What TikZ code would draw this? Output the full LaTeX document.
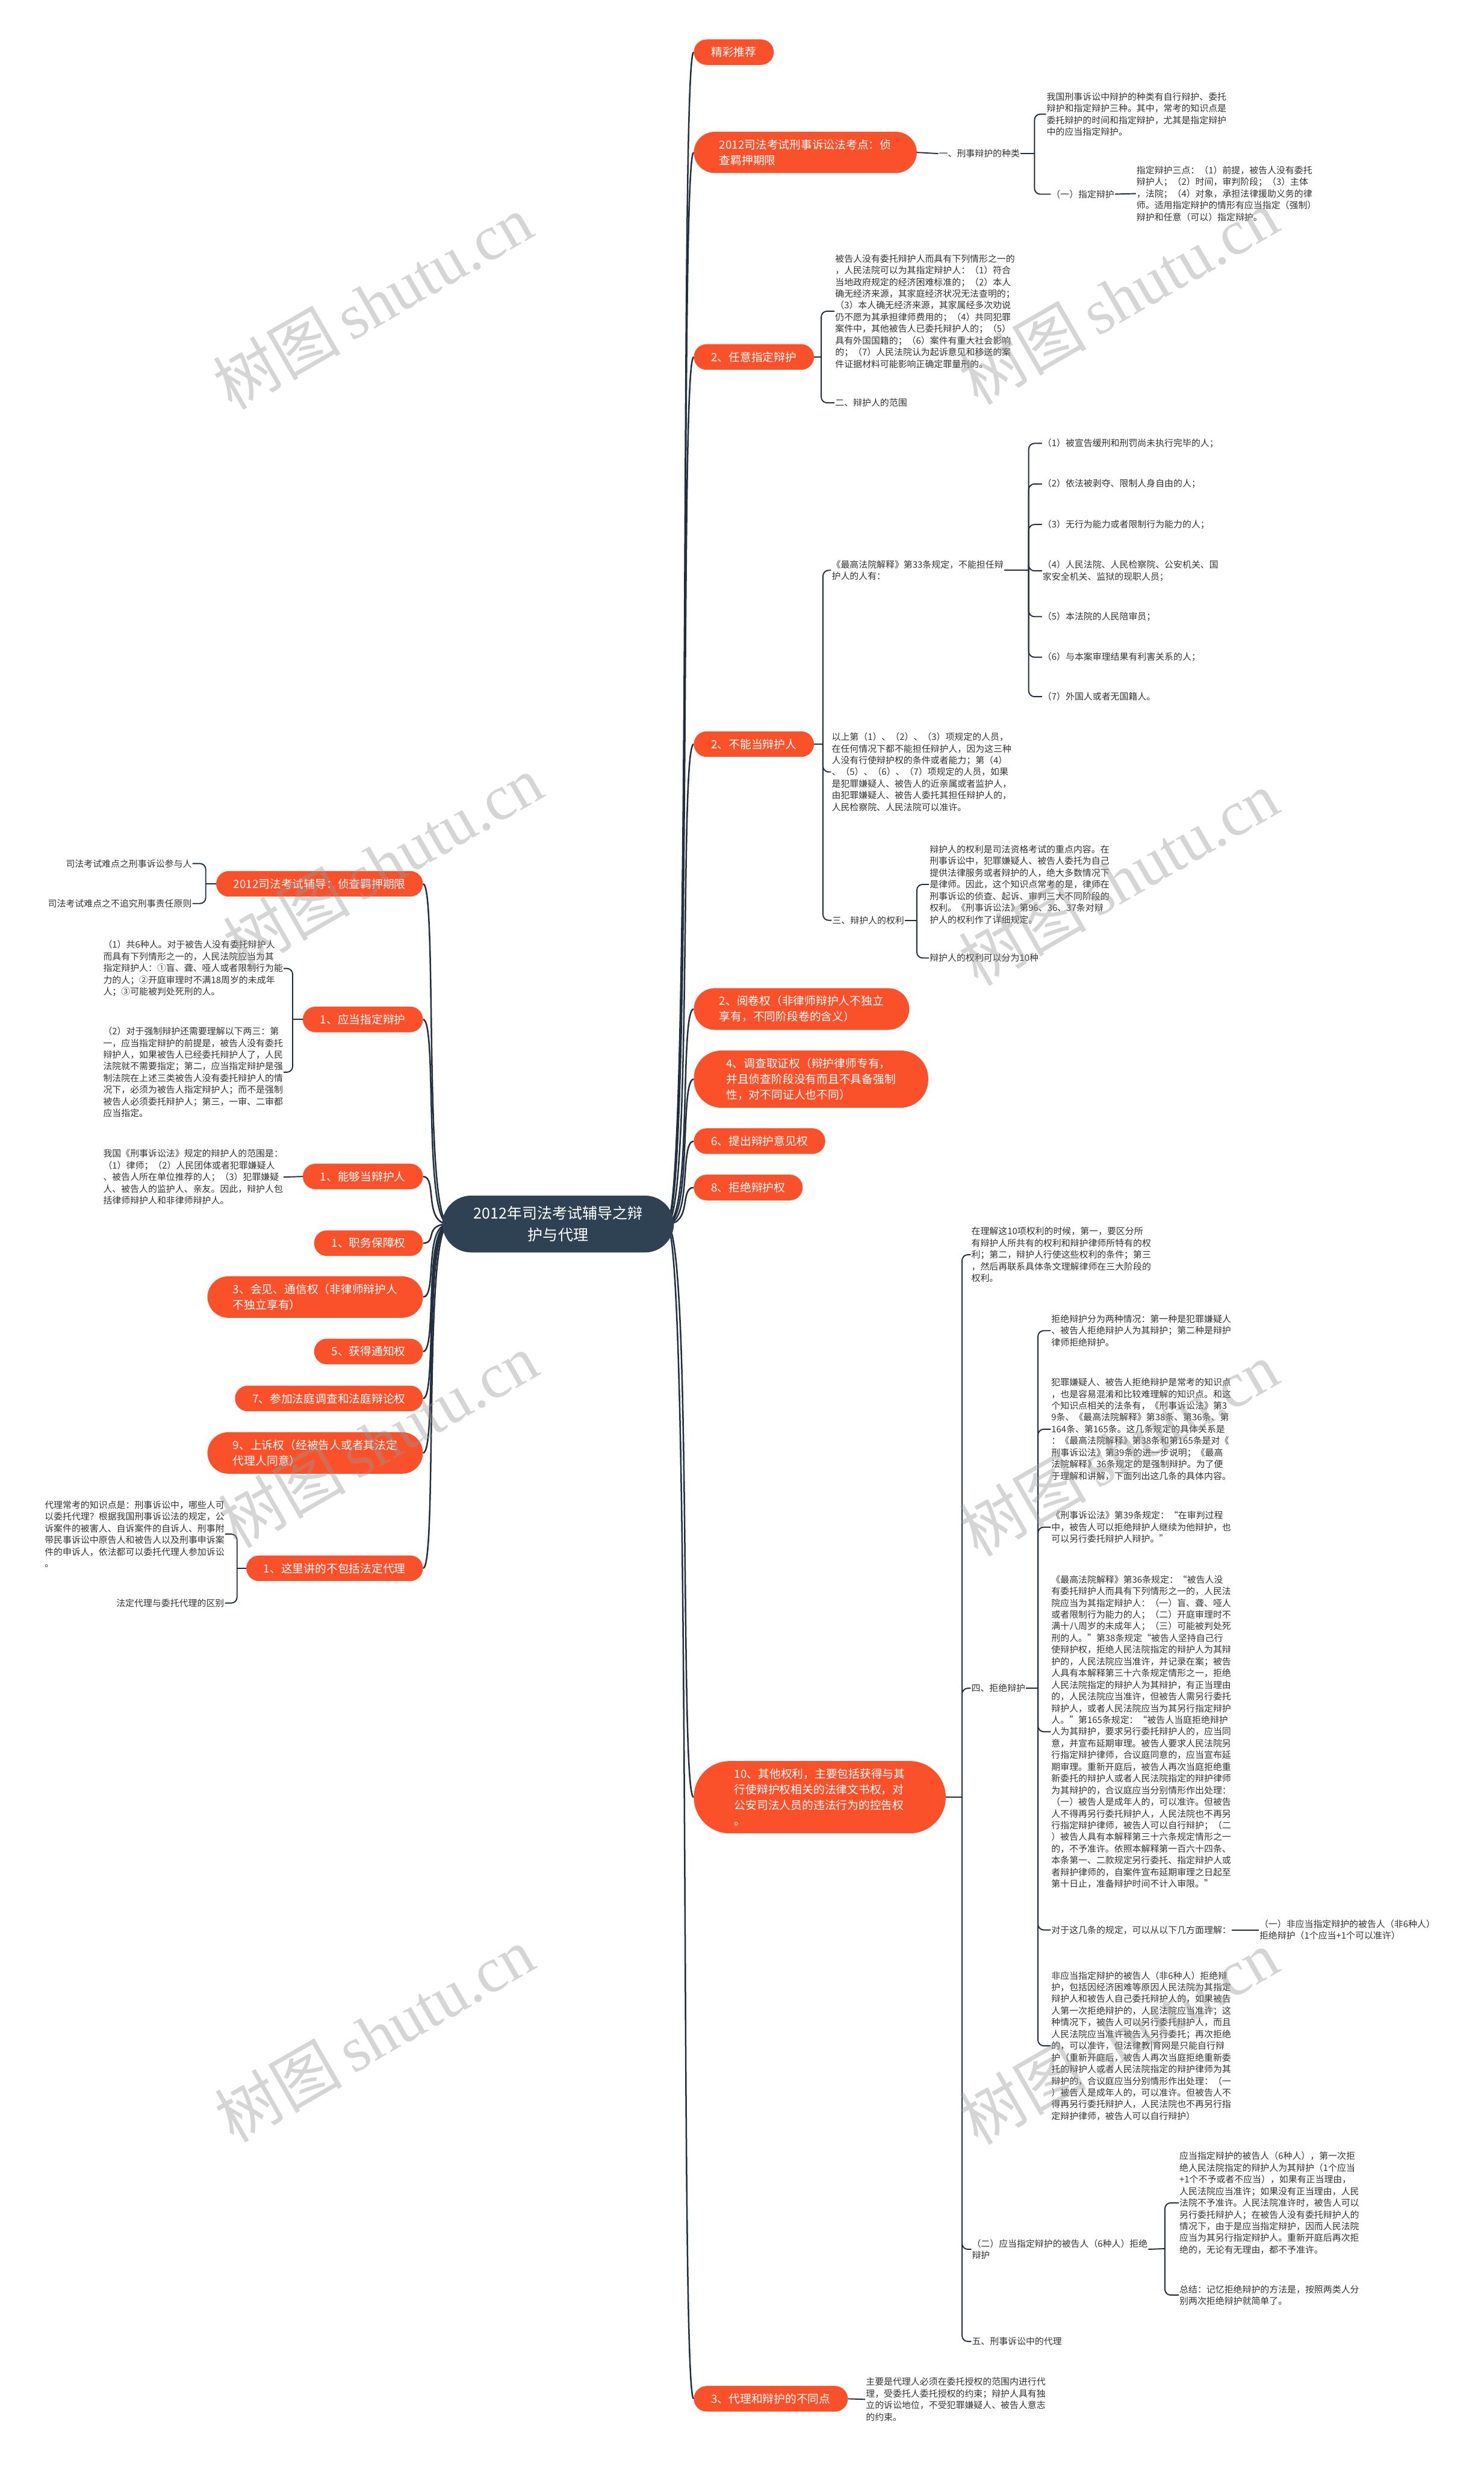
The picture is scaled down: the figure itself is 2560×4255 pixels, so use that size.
\documentclass[tikz,border=0pt]{standalone}
\usepackage{fontspec}
\setmainfont{Noto Sans CJK SC}
\newfontfamily\marcalat{Liberation Serif}
\usetikzlibrary{positioning,backgrounds}

\definecolor{tema}{RGB}{250,81,43}
\definecolor{raizcor}{RGB}{47,66,84}
\definecolor{linha}{RGB}{33,47,62}
\definecolor{textocor}{RGB}{51,51,51}
\definecolor{marcacor}{RGB}{150,150,150}

\tikzset{
  topico/.style={rectangle, rounded corners=#1, fill=tema, text=white, font=\fontsize{19.5}{27}\selectfont, align=left, inner xsep={#1+8pt}, inner ysep=13pt},
  topico/.default=22pt,
  raiz/.style={rectangle, rounded corners=50pt, fill=raizcor, text=white, font=\fontsize{26}{38}\selectfont, align=center, inner xsep=54pt, inner ysep=18pt},
  nota/.style={font=\fontsize{15.5}{20.2}\selectfont, text=textocor, align=left, inner sep=1pt},
  ramo/.style={draw=linha, line width=2.6pt},
  fio/.style={draw=linha, line width=2pt},
  chave/.style={fio, rounded corners=10pt},
  marca/.style={text=marcacor, opacity=0.4, rotate=30, font=\fontsize{110}{110}\selectfont}
}

\begin{document}
\begin{tikzpicture}[x=1pt,y=-1pt]
        \useasboundingbox (0,0) rectangle (2560,4255);

        % Raiz
        \node[raiz] (raiz) at (963,2112) {2012年司法考试辅导之辩\\护与代理};

        % Topicos da direita
        \node[topico, anchor=west] (jc) at (1197,90) {精彩推荐};
        \node[topico=36pt, anchor=west] (zc) at (1197,263) {2012司法考试刑事诉讼法考点：侦\\查羁押期限};
        \node[topico, anchor=west] (ry) at (1197,616) {2、任意指定辩护};
        \node[topico, anchor=west] (bn) at (1197,1284) {2、不能当辩护人};
        \node[topico=36pt, anchor=west] (yj) at (1197,1741) {2、阅卷权（非律师辩护人不独立\\享有，不同阶段卷的含义）};
        \node[topico=48pt, anchor=west] (dc) at (1197,1862) {4、调查取证权（辩护律师专有，\\并且侦查阶段没有而且不具备强制\\性，对不同证人也不同）};
        \node[topico, anchor=west] (tc) at (1197,1969) {6、提出辩护意见权};
        \node[topico, anchor=west] (jj) at (1197,2049) {8、拒绝辩护权};
        \node[topico=62pt, anchor=west] (qt) at (1197,3101) {10、其他权利，主要包括获得与其\\行使辩护权相关的法律文书权，对\\公安司法人员的违法行为的控告权\\。};
        \node[topico, anchor=west] (dl) at (1197,4139) {3、代理和辩护的不同点};

        % Topicos da esquerda
        \node[topico, anchor=east] (fd) at (730,1525) {2012司法考试辅导：侦查羁押期限};
        \node[topico, anchor=east] (yd) at (730,1759) {1、应当指定辩护};
        \node[topico, anchor=east] (ng) at (730,2030) {1、能够当辩护人};
        \node[topico, anchor=east] (zw) at (730,2145) {1、职务保障权};
        \node[topico=36pt, anchor=east] (hj) at (730,2238) {3、会见、通信权（非律师辩护人\\不独立享有）};
        \node[topico, anchor=east] (hd) at (730,2332) {5、获得通知权};
        \node[topico, anchor=east] (cj) at (730,2413) {7、参加法庭调查和法庭辩论权};
        \node[topico=36pt, anchor=east] (ss) at (730,2507) {9、上诉权（经被告人或者其法定\\代理人同意）};
        \node[topico, anchor=east] (zl) at (730,2706) {1、这里讲的不包括法定代理};

        % Ramos da raiz
        \begin{scope}[on background layer]
          \fill[white] (0,0) rectangle (2560,4255);
          \coordinate (rd) at (1150,2112);
          \coordinate (re) at (775,2112);
          \foreach \n in {jc,zc,ry,bn,yj,dc,tc,jj,qt,dl}
            \draw[ramo] (rd) .. controls ([xshift=45pt]rd) and ([xshift=-25pt]\n.west) .. (\n.west);
          \foreach \n in {fd,yd,ng,zw,hj,hd,cj,ss,zl}
            \draw[ramo] (re) .. controls ([xshift=-45pt]re) and ([xshift=25pt]\n.east) .. (\n.east);
        \end{scope}

        % 侦查羁押期限
        \node[nota, anchor=west] (zlb) at (1619,265) {一、刑事辩护的种类};
        \node[nota, anchor=west] (zlb1) at (1805,197) {我国刑事诉讼中辩护的种类有自行辩护、委托\\辩护和指定辩护三种。其中，常考的知识点是\\委托辩护的时间和指定辩护，尤其是指定辩护\\中的应当指定辩护。};
        \node[nota, anchor=west] (zdbh) at (1813,335) {（一）指定辩护};
        \node[nota, anchor=west] (zdbh1) at (1960,334) {指定辩护三点：（1）前提，被告人没有委托\\辩护人；（2）时间，审判阶段；（3）主体\\，法院；（4）对象，承担法律援助义务的律\\师。适用指定辩护的情形有应当指定（强制）\\辩护和任意（可以）指定辩护。};
        \coordinate (kzc) at (1785,265);
        \draw[fio] (zc.east) -- (zlb.west);
        \draw[fio] (zlb.east) -- (kzc);
        \draw[chave] (kzc) |- (zlb1.west);
        \draw[chave] (kzc) |- (zdbh.west);
        \draw[fio] (zdbh.east) -- (zdbh1.west);

        % 任意指定辩护
        \node[nota, anchor=west] (ry1) at (1440,537) {被告人没有委托辩护人而具有下列情形之一的\\，人民法院可以为其指定辩护人：（1）符合\\当地政府规定的经济困难标准的；（2）本人\\确无经济来源，其家庭经济状况无法查明的；\\（3）本人确无经济来源，其家属经多次劝说\\仍不愿为其承担律师费用的；（4）共同犯罪\\案件中，其他被告人已委托辩护人的；（5）\\具有外国国籍的；（6）案件有重大社会影响\\的；（7）人民法院认为起诉意见和移送的案\\件证据材料可能影响正确定罪量刑的。};
        \node[nota, anchor=west] (ry2) at (1440,695) {二、辩护人的范围};
        \coordinate (kry) at (1417,616);
        \draw[fio] (ry.east) -- (kry);
        \draw[chave] (kry) |- (ry1.west);
        \draw[chave] (kry) |- (ry2.west);

        % 不能当辩护人
        \node[nota, anchor=west] (bn1) at (1434,984) {《最高法院解释》第33条规定，不能担任辩\\护人的人有：};
        \node[nota, anchor=west] (bn2) at (1434,1332) {以上第（1）、（2）、（3）项规定的人员，\\在任何情况下都不能担任辩护人，因为这三种\\人没有行使辩护权的条件或者能力；第（4）\\、（5）、（6）、（7）项规定的人员，如果\\是犯罪嫌疑人、被告人的近亲属或者监护人，\\由犯罪嫌疑人、被告人委托其担任辩护人的，\\人民检察院、人民法院可以准许。};
        \node[nota, anchor=west] (bn3) at (1435,1588) {三、辩护人的权利};
        \coordinate (kbn) at (1420,1284);
        \draw[fio] (bn.east) -- (kbn);
        \foreach \n in {bn1,bn2,bn3}
          \draw[chave] (kbn) |- (\n.west);

        \node[nota, anchor=west] (bn1a) at (1798,765) {（1）被宣告缓刑和刑罚尚未执行完毕的人；};
        \node[nota, anchor=west] (bn1b) at (1798,835) {（2）依法被剥夺、限制人身自由的人；};
        \node[nota, anchor=west] (bn1c) at (1798,905) {（3）无行为能力或者限制行为能力的人；};
        \node[nota, anchor=west] (bn1d) at (1798,985) {（4）人民法院、人民检察院、公安机关、国\\家安全机关、监狱的现职人员；};
        \node[nota, anchor=west] (bn1e) at (1798,1064) {（5）本法院的人民陪审员；};
        \node[nota, anchor=west] (bn1f) at (1798,1134) {（6）与本案审理结果有利害关系的人；};
        \node[nota, anchor=west] (bn1g) at (1798,1202) {（7）外国人或者无国籍人。};
        \coordinate (kbn1) at (1775,984);
        \draw[fio] (bn1.east) -- (kbn1);
        \foreach \n in {bn1a,bn1b,bn1c,bn1d,bn1e,bn1f,bn1g}
          \draw[chave] (kbn1) |- (\n.west);

        \node[nota, anchor=west] (bn3a) at (1603,1526) {辩护人的权利是司法资格考试的重点内容。在\\刑事诉讼中，犯罪嫌疑人、被告人委托为自己\\提供法律服务或者辩护的人，绝大多数情况下\\是律师。因此，这个知识点常考的是，律师在\\刑事诉讼的侦查、起诉、审判三大不同阶段的\\权利。《刑事诉讼法》第96、36、37条对辩\\护人的权利作了详细规定。};
        \node[nota, anchor=west] (bn3b) at (1603,1653) {辩护人的权利可以分为10种};
        \coordinate (kbn3) at (1582,1588);
        \draw[fio] (bn3.east) -- (kbn3);
        \draw[chave] (kbn3) |- (bn3a.west);
        \draw[chave] (kbn3) |- (bn3b.west);

        % 其他权利
        \node[nota, anchor=west] (qt1) at (1675,2165) {在理解这10项权利的时候，第一，要区分所\\有辩护人所共有的权利和辩护律师所特有的权\\利；第二，辩护人行使这些权利的条件；第三\\，然后再联系具体条文理解律师在三大阶段的\\权利。};
        \node[nota, anchor=west] (qt2) at (1675,2913) {四、拒绝辩护};
        \node[nota, anchor=west] (qt3) at (1676,3881) {（二）应当指定辩护的被告人（6种人）拒绝\\辩护};
        \node[nota, anchor=west] (qt4) at (1676,4040) {五、刑事诉讼中的代理};
        \coordinate (kqt) at (1660,3101);
        \draw[fio] (qt.east) -- (kqt);
        \foreach \n in {qt1,qt2,qt3,qt4}
          \draw[chave] (kqt) |- (\n.west);

        \node[nota, anchor=west] (qt2a) at (1813,2296) {拒绝辩护分为两种情况：第一种是犯罪嫌疑人\\、被告人拒绝辩护人为其辩护；第二种是辩护\\律师拒绝辩护。};
        \node[nota, anchor=west] (qt2b) at (1813,2466) {犯罪嫌疑人、被告人拒绝辩护是常考的知识点\\，也是容易混淆和比较难理解的知识点。和这\\个知识点相关的法条有，《刑事诉讼法》第3\\9条、《最高法院解释》第38条、第36条、第\\164条、第165条。这几条规定的具体关系是\\：《最高法院解释》第38条和第165条是对《\\刑事诉讼法》第39条的进一步说明；《最高\\法院解释》36条规定的是强制辩护。为了便\\于理解和讲解，下面列出这几条的具体内容。};
        \node[nota, anchor=west] (qt2c) at (1813,2635) {《刑事诉讼法》第39条规定：“在审判过程\\中，被告人可以拒绝辩护人继续为他辩护，也\\可以另行委托辩护人辩护。”};
        \node[nota, anchor=west] (qt2d) at (1813,2988) {《最高法院解释》第36条规定：“被告人没\\有委托辩护人而具有下列情形之一的，人民法\\院应当为其指定辩护人：（一）盲、聋、哑人\\或者限制行为能力的人；（二）开庭审理时不\\满十八周岁的未成年人；（三）可能被判处死\\刑的人。”第38条规定“被告人坚持自己行\\使辩护权，拒绝人民法院指定的辩护人为其辩\\护的，人民法院应当准许，并记录在案；被告\\人具有本解释第三十六条规定情形之一，拒绝\\人民法院指定的辩护人为其辩护，有正当理由\\的，人民法院应当准许，但被告人需另行委托\\辩护人，或者人民法院应当为其另行指定辩护\\人。”第165条规定：“被告人当庭拒绝辩护\\人为其辩护，要求另行委托辩护人的，应当同\\意，并宣布延期审理。被告人要求人民法院另\\行指定辩护律师，合议庭同意的，应当宣布延\\期审理。重新开庭后，被告人再次当庭拒绝重\\新委托的辩护人或者人民法院指定的辩护律师\\为其辩护的，合议庭应当分别情形作出处理：\\（一）被告人是成年人的，可以准许。但被告\\人不得再另行委托辩护人，人民法院也不再另\\行指定辩护律师，被告人可以自行辩护；（二\\）被告人具有本解释第三十六条规定情形之一\\的，不予准许。依照本解释第一百六十四条、\\本条第一、二款规定另行委托、指定辩护人或\\者辩护律师的，自案件宣布延期审理之日起至\\第十日止，准备辩护时间不计入审限。”};
        \node[nota, anchor=west] (qt2e) at (1813,3330) {对于这几条的规定，可以从以下几方面理解：};
        \node[nota, anchor=west] (qt2f) at (1813,3530) {非应当指定辩护的被告人（非6种人）拒绝辩\\护，包括因经济困难等原因人民法院为其指定\\辩护人和被告人自己委托辩护人的，如果被告\\人第一次拒绝辩护的，人民法院应当准许；这\\种情况下，被告人可以另行委托辩护人，而且\\人民法院应当准许被告人另行委托；再次拒绝\\的，可以准许，但法律教|育网是只能自行辩\\护（重新开庭后，被告人再次当庭拒绝重新委\\托的辩护人或者人民法院指定的辩护律师为其\\辩护的，合议庭应当分别情形作出处理：（一\\）被告人是成年人的，可以准许。但被告人不\\得再另行委托辩护人，人民法院也不再另行指\\定辩护律师，被告人可以自行辩护）};
        \coordinate (kqt2) at (1791,2913);
        \draw[fio] (qt2.east) -- (kqt2);
        \foreach \n in {qt2a,qt2b,qt2c,qt2d,qt2e,qt2f}
          \draw[chave] (kqt2) |- (\n.west);
        \node[nota, anchor=west] (qt2e1) at (2172,3330) {（一）非应当指定辩护的被告人（非6种人）\\拒绝辩护（1个应当+1个可以准许）};
        \draw[fio] (qt2e.east) -- (qt2e1.west);

        \node[nota, anchor=west] (qt3a) at (2034,3801) {应当指定辩护的被告人（6种人），第一次拒\\绝人民法院指定的辩护人为其辩护（1个应当\\+1个不予或者不应当），如果有正当理由，\\人民法院应当准许；如果没有正当理由，人民\\法院不予准许。人民法院准许时，被告人可以\\另行委托辩护人；在被告人没有委托辩护人的\\情况下，由于是应当指定辩护，因而人民法院\\应当为其另行指定辩护人。重新开庭后再次拒\\绝的，无论有无理由，都不予准许。};
        \node[nota, anchor=west] (qt3b) at (2034,3960) {总结：记忆拒绝辩护的方法是，按照两类人分\\别两次拒绝辩护就简单了。};
        \coordinate (kqt3) at (2010,3880);
        \draw[fio] (qt3.east) -- (kqt3);
        \draw[chave] (kqt3) |- (qt3a.west);
        \draw[chave] (kqt3) |- (qt3b.west);

        % 代理和辩护的不同点
        \node[nota, anchor=west] (dl1) at (1493,4140) {主要是代理人必须在委托授权的范围内进行代\\理，受委托人委托授权的约束；辩护人具有独\\立的诉讼地位，不受犯罪嫌疑人、被告人意志\\的约束。};
        \draw[fio] (dl.east) -- (dl1.west);

        % Esquerda
        \node[nota, anchor=east] (fd1) at (332,1490) {司法考试难点之刑事诉讼参与人};
        \node[nota, anchor=east] (fd2) at (332,1559) {司法考试难点之不追究刑事责任原则};
        \coordinate (kfd) at (355,1525);
        \draw[fio] (fd.west) -- (kfd);
        \draw[chave] (kfd) |- (fd1.east);
        \draw[chave] (kfd) |- (fd2.east);

        \node[nota, anchor=west] (yd1) at (177,1671) {（1）共6种人。对于被告人没有委托辩护人\\而具有下列情形之一的，人民法院应当为其\\指定辩护人：①盲、聋、哑人或者限制行为能\\力的人；②开庭审理时不满18周岁的未成年\\人；③可能被判处死刑的人。};
        \node[nota, anchor=west] (yd2) at (177,1850) {（2）对于强制辩护还需要理解以下两三：第\\一，应当指定辩护的前提是，被告人没有委托\\辩护人，如果被告人已经委托辩护人了，人民\\法院就不需要指定；第二，应当指定辩护是强\\制法院在上述三类被告人没有委托辩护人的情\\况下，必须为被告人指定辩护人；而不是强制\\被告人必须委托辩护人；第三，一审、二审都\\应当指定。};
        \coordinate (kyd) at (505,1759);
        \draw[fio] (yd.west) -- (kyd);
        \draw[chave] (kyd) |- (yd1.east);
        \draw[chave] (kyd) |- (yd2.east);

        \node[nota, anchor=west] (ng1) at (177,2031) {我国《刑事诉讼法》规定的辩护人的范围是：\\（1）律师；（2）人民团体或者犯罪嫌疑人\\、被告人所在单位推荐的人；（3）犯罪嫌疑\\人、被告人的监护人、亲友。因此，辩护人包\\括律师辩护人和非律师辩护人。};
        \draw[fio] (ng.west) -- (ng1.east);

        \node[nota, anchor=west] (zl1) at (76,2647) {代理常考的知识点是：刑事诉讼中，哪些人可\\以委托代理？根据我国刑事诉讼法的规定，公\\诉案件的被害人、自诉案件的自诉人、刑事附\\带民事诉讼中原告人和被告人以及刑事申诉案\\件的申诉人，依法都可以委托代理人参加诉讼\\。};
        \node[nota, anchor=east] (zl2) at (388,2766) {法定代理与委托代理的区别};
        \coordinate (kzl) at (409,2706);
        \draw[fio] (zl.west) -- (kzl);
        \draw[chave] (kzl) |- (zl1.east);
        \draw[chave] (kzl) |- (zl2.east);

        % Marca d'agua
        \foreach \mx/\my [count=\i] in {643/521, 1930/512, 660/1488, 1930/1515, 652/2485, 1930/2500, 646/3510, 1930/3515}
          \node[marca] (marca\i) at (\mx,\my) {树图\,{\marcalat shutu.cn}};
\end{tikzpicture}
\end{document}
